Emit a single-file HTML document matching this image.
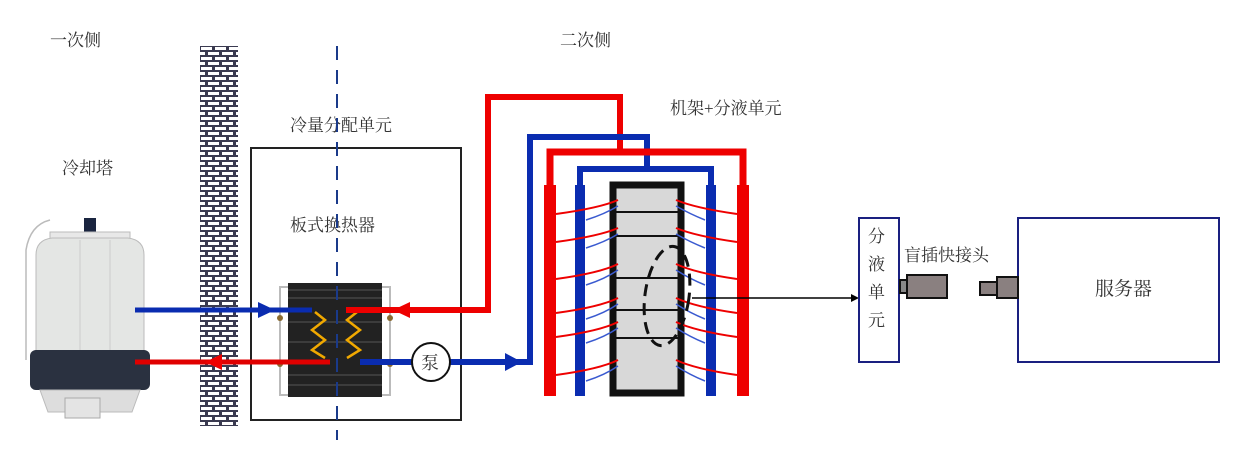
<!DOCTYPE html>
<html><head><meta charset="utf-8"><style>
html,body{margin:0;padding:0;background:#fff;}
svg{display:block;}
text{font-family:"Liberation Serif","Noto Serif CJK SC","Noto Sans CJK SC",serif;fill:#333;font-size:17px;}
</style></head><body>
<svg width="1245" height="456" viewBox="0 0 1245 456" xmlns="http://www.w3.org/2000/svg">
<defs>
<pattern id="brick" x="200" y="46" width="14" height="10" patternUnits="userSpaceOnUse">
<rect width="14" height="10" fill="#3a3a50"/>
<rect x="1" y="1" width="11" height="3" fill="#fff"/>
<rect x="-6" y="6" width="11" height="3" fill="#fff"/>
<rect x="8" y="6" width="11" height="3" fill="#fff"/>
</pattern>
<marker id="ab" markerWidth="8" markerHeight="8" refX="6" refY="4" orient="auto" markerUnits="userSpaceOnUse"><path d="M0,0 L8,4 L0,8z" fill="#000"/></marker>
</defs>
<text x="50" y="46">一次侧</text>
<text x="560" y="46">二次侧</text>
<text x="62" y="174">冷却塔</text>
<text x="290" y="131">冷量分配单元</text>
<text x="290" y="231">板式换热器</text>
<text x="670" y="114">机架+分液单元</text>
<text x="904" y="261">盲插快接头</text>
<text x="1095" y="295" style="font-size:19px">服务器</text>
<text x="868" y="242">分</text><text x="868" y="270">液</text><text x="868" y="298">单</text><text x="868" y="326">元</text>

<rect x="200" y="46" width="38" height="380" fill="url(#brick)"/>
<rect x="251" y="148" width="210" height="272" fill="none" stroke="#222" stroke-width="2"/>

<g>
<path d="M26,360 L26,250 Q30,225 50,220" fill="none" stroke="#bbb" stroke-width="1.5"/>
<rect x="84" y="218" width="12" height="14" fill="#1a2540"/>
<rect x="50" y="232" width="80" height="10" fill="#e8e8e8" stroke="#bbb"/>
<path d="M36,255 Q36,240 52,238 L128,238 Q144,240 144,255 L144,352 L36,352Z" fill="#e4e6e4" stroke="#bbb"/>
<line x1="80" y1="240" x2="80" y2="350" stroke="#ccc"/>
<line x1="110" y1="240" x2="110" y2="350" stroke="#ccc"/>
<rect x="30" y="350" width="120" height="40" rx="6" fill="#2a3140"/>
<path d="M40,390 L140,390 L132,412 L48,412Z" fill="#ddd" stroke="#bbb"/>
<rect x="65" y="398" width="35" height="20" fill="#e4e4e4" stroke="#aaa"/>
</g>

<rect x="280" y="287" width="110" height="108" fill="none" stroke="#bbb" stroke-width="2"/>
<rect x="288" y="283" width="94" height="114" fill="#222"/>
<g stroke="#555" stroke-width="1">
<line x1="288" y1="290" x2="382" y2="290"/><line x1="288" y1="298" x2="382" y2="298"/><line x1="288" y1="322" x2="382" y2="322"/><line x1="288" y1="342" x2="382" y2="342"/><line x1="288" y1="375" x2="382" y2="375"/><line x1="288" y1="385" x2="382" y2="385"/>
</g>
<g fill="#8a6a30"><circle cx="280" cy="318" r="3"/><circle cx="280" cy="364" r="3"/><circle cx="390" cy="318" r="3"/><circle cx="390" cy="364" r="3"/></g>
<polyline points="315,312 325,320 312,330 325,340 312,350 325,358" fill="none" stroke="#f0a800" stroke-width="2.5"/>
<polyline points="357,312 347,320 360,330 347,340 360,350 347,358" fill="none" stroke="#f0a800" stroke-width="2.5"/>
<line x1="337" y1="46" x2="337" y2="440" stroke="#1a3a8a" stroke-width="2" stroke-dasharray="14,10"/>

<line x1="135" y1="310" x2="312" y2="310" stroke="#0a2cb0" stroke-width="5"/>
<path d="M258,302 L275,310 L258,318Z" fill="#0a2cb0"/>
<line x1="135" y1="362" x2="330" y2="362" stroke="#e00000" stroke-width="5"/>
<path d="M222,354 L205,362 L222,370Z" fill="#e00"/>
<polyline points="346,310 488,310 488,97 620,97 620,152" fill="none" stroke="#e00" stroke-width="6"/>
<path d="M410,302 L393,310 L410,318Z" fill="#e00"/>
<polyline points="360,362 530,362 530,137 647,137 647,169" fill="none" stroke="#0a2cb0" stroke-width="6"/>
<path d="M505,353 L522,362 L505,371Z" fill="#0a2cb0"/>
<circle cx="431" cy="362" r="19" fill="#fff" stroke="#111" stroke-width="2"/>
<text x="421" y="369" style="font-size:18px">泵</text>

<polyline points="550,392 550,152 743,152 743,392" fill="none" stroke="#e00" stroke-width="7"/>
<line x1="550" y1="185" x2="550" y2="396" stroke="#e00" stroke-width="12"/>
<line x1="743" y1="185" x2="743" y2="396" stroke="#e00" stroke-width="12"/>
<polyline points="580,392 580,169 711,169 711,392" fill="none" stroke="#0a2cb0" stroke-width="6"/>
<line x1="580" y1="185" x2="580" y2="396" stroke="#0a2cb0" stroke-width="10"/>
<line x1="711" y1="185" x2="711" y2="396" stroke="#0a2cb0" stroke-width="10"/>
<rect x="613" y="185" width="68" height="208" fill="#d8d8d8" stroke="#111" stroke-width="7"/>
<g stroke="#111" stroke-width="2">
<line x1="613" y1="212" x2="681" y2="212"/><line x1="613" y1="236" x2="681" y2="236"/><line x1="613" y1="278" x2="681" y2="278"/><line x1="613" y1="310" x2="681" y2="310"/><line x1="613" y1="338" x2="681" y2="338"/>
</g>
<g fill="none" stroke-width="2">
<g stroke="#e00">
<path d="M556,214 Q600,208 618,200"/><path d="M556,242 Q600,236 618,228"/><path d="M556,279 Q600,273 618,264"/><path d="M556,313 Q600,307 618,298"/><path d="M556,337 Q600,331 618,322"/><path d="M556,375 Q600,369 618,360"/>
<path d="M737,214 Q695,208 676,200"/><path d="M737,242 Q695,236 676,228"/><path d="M737,279 Q695,273 676,264"/><path d="M737,313 Q695,307 676,298"/><path d="M737,337 Q695,331 676,322"/><path d="M737,375 Q695,369 676,360"/>
</g>
<g stroke="#3a5ad0" stroke-width="1.5">
<path d="M586,220 Q605,214 618,206"/><path d="M586,248 Q605,242 618,234"/><path d="M586,285 Q605,279 618,270"/><path d="M586,319 Q605,313 618,304"/><path d="M586,343 Q605,337 618,328"/><path d="M586,381 Q605,375 618,366"/>
<path d="M705,220 Q690,214 676,206"/><path d="M705,248 Q690,242 676,234"/><path d="M705,285 Q690,279 676,270"/><path d="M705,319 Q690,313 676,304"/><path d="M705,343 Q690,337 676,328"/><path d="M705,381 Q690,375 676,366"/>
</g>
</g>
<ellipse cx="667" cy="296" rx="22" ry="50" fill="none" stroke="#111" stroke-width="3" stroke-dasharray="12,7" transform="rotate(8 667 296)"/>
<line x1="692" y1="298" x2="857" y2="298" stroke="#000" stroke-width="1.5" marker-end="url(#ab)"/>

<rect x="859" y="218" width="40" height="144" fill="none" stroke="#1a2080" stroke-width="2"/>
<rect x="1018" y="218" width="201" height="144" fill="none" stroke="#1a2080" stroke-width="2"/>
<rect x="900" y="280" width="8" height="13" fill="#888" stroke="#111" stroke-width="2"/>
<rect x="907" y="275" width="40" height="23" fill="#8a8080" stroke="#111" stroke-width="2"/>
<rect x="980" y="282" width="18" height="13" fill="#8a8080" stroke="#111" stroke-width="2"/>
<rect x="997" y="277" width="21" height="21" fill="#8a8080" stroke="#111" stroke-width="2"/>
</svg>
</body></html>
